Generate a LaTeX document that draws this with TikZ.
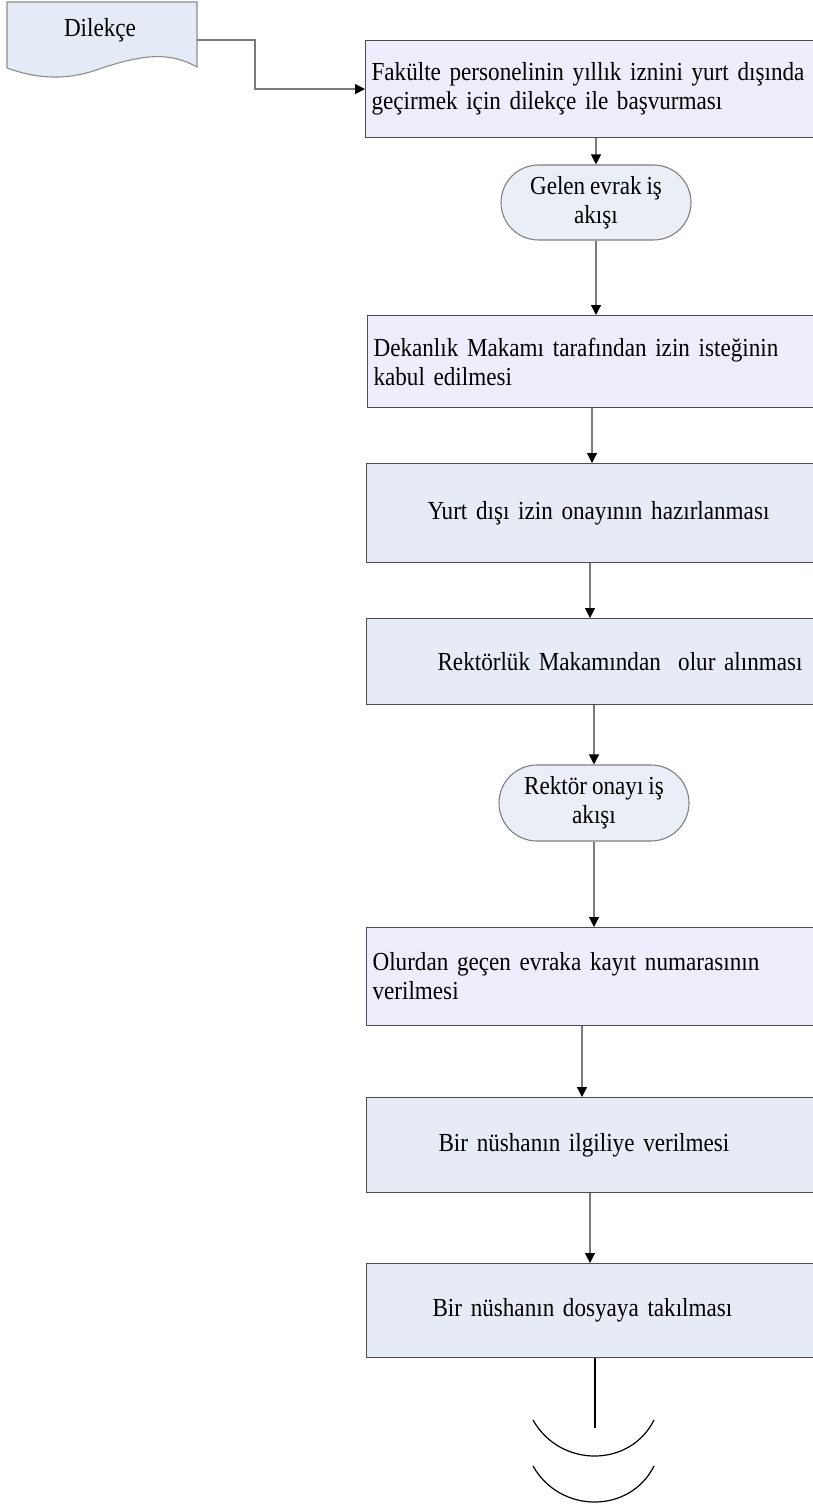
\documentclass[tikz,border=0pt]{standalone}
\usepackage{fontspec}
\setmainfont{Liberation Serif}[FakeStretch=0.89, WordSpace=0.85]
\usetikzlibrary{shapes.misc,arrows.meta,calc}
\definecolor{lav}{HTML}{EDEDFB}
\definecolor{bluegray}{HTML}{E7EBF6}
\definecolor{termfill}{HTML}{E9EEF7}
\definecolor{docfill}{HTML}{E5EBF6}
\definecolor{edge}{HTML}{7A7A7A}
\begin{document}
\begin{tikzpicture}[x=1bp,y=-1bp,
  txt/.style={font=\fontsize{26bp}{29bp}\selectfont},
  procbox/.style={txt, rectangle, draw=black!70, line width=1.1bp, anchor=north west,
    text width=446bp, inner xsep=6bp, inner ysep=0pt, align=left},
  lavbox/.style={procbox, fill=lav},
  bluebox/.style={procbox, fill=bluegray},
  term/.style={txt, rounded rectangle, draw=black!50, fill=termfill, line width=1.1bp,
    minimum width=190bp, minimum height=75bp, inner sep=0pt, align=center},
  conn/.style={draw=edge, line width=1.2bp, -{Triangle[length=10bp,width=10bp,color=black]}},
  plain/.style={draw=black, line width=1.2bp},
  docshape/.style={draw=black!45, fill=docfill, line width=1.1bp}
]
\useasboundingbox (0,0) rectangle (812,1506);

% document shape
\draw[docshape] (7,2) -- (197,2) -- (197,67)
  .. controls (170,52) and (145,54) .. (102,68)
  .. controls (65,82) and (35,78) .. (7,68) -- cycle;
\node[txt] (dil) at (100,30) {Dilekçe};
\coordinate (dilR) at (197,40);

% process boxes
\node[lavbox, minimum height=97bp] (b1) at (365,40)
  {Fakülte personelinin yıllık iznini yurt dışında\\geçirmek için dilekçe ile başvurması};
\node[term] (t1) at (596,202.5) {Gelen evrak iş\\akışı};
\node[lavbox, minimum height=92bp] (b2) at (367,315)
  {Dekanlık Makamı tarafından izin isteğinin\\kabul edilmesi};
\node[bluebox, minimum height=99bp] (b3) at (366,463)
  {\hspace*{55bp}Yurt dışı izin onayının hazırlanması};
\node[bluebox, minimum height=86bp] (b4) at (366,618)
  {\hspace*{65bp}Rektörlük Makamından\ \ olur alınması};
\node[term, minimum height=76bp] (t2) at (594,803) {Rektör onayı iş\\akışı};
\node[lavbox, minimum height=98bp] (b5) at (366,927)
  {Olurdan geçen evraka kayıt numarasının\\verilmesi};
\node[bluebox, minimum height=95bp] (b6) at (366,1097)
  {\hspace*{66bp}Bir nüshanın ilgiliye verilmesi};
\node[bluebox, minimum height=94bp] (b7) at (366,1263)
  {\hspace*{60bp}Bir nüshanın dosyaya takılması};
\coordinate (endtop) at (595,1428);

% connector start points
\coordinate (c2) at ($(b2.south west)+(225,0)$);
\coordinate (c3) at ($(b3.south west)+(224,0)$);
\coordinate (c5) at ($(b5.south west)+(216,0)$);
\coordinate (c6) at ($(b6.south west)+(224,0)$);

% connectors
\draw[conn] (dilR) -- ++(58,0) |- (b1.west);
\draw[conn] (t1.north |- b1.south) -- (t1.north);
\draw[conn] (t1.south) -- (t1.south |- b2.north);
\draw[conn] (c2) -- (c2 |- b3.north);
\draw[conn] (c3) -- (c3 |- b4.north);
\draw[conn] (t2.north |- b4.south) -- (t2.north);
\draw[conn] (t2.south) -- (t2.south |- b5.north);
\draw[conn] (c5) -- (c5 |- b6.north);
\draw[conn] (c6) -- (c6 |- b7.north);
\draw[plain] (endtop |- b7.south) -- (endtop);

% end symbol
\draw[plain] (533,1420) .. controls (560,1468) and (630,1468) .. (654,1420);
\draw[plain] (533,1466) .. controls (560,1514) and (630,1514) .. (654,1466);
\end{tikzpicture}
\end{document}
